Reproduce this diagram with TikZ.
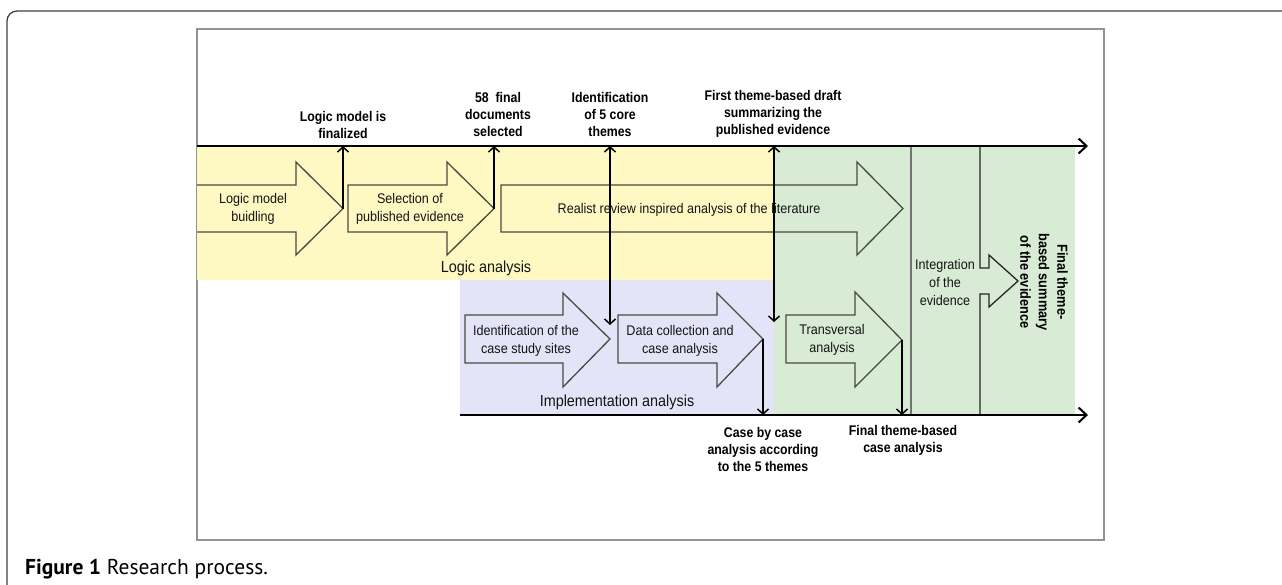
\documentclass[tikz,border=0pt]{standalone}
\usepackage{fontspec}
\setmainfont{Liberation Sans}
\newfontfamily\labfont{Liberation Sans}[FakeStretch=0.88]
\newfontfamily\txtfont{Liberation Sans}[FakeStretch=0.9]
\newfontfamily\capfont{PT Sans}
\usetikzlibrary{arrows.meta}
\definecolor{bgyellow}{HTML}{FEF9C3}
\definecolor{bglav}{HTML}{E4E4F8}
\definecolor{bggreen}{HTML}{D8EBD5}
\definecolor{outl}{HTML}{4A4A40}
\tikzset{
  lbl/.style={font=\labfont\bfseries\fontsize{14}{17}\selectfont, align=center, inner sep=0pt},
  atxt/.style={font=\txtfont\fontsize{14}{18}\selectfont, align=center, text=black!92, inner sep=0pt},
  zonetxt/.style={font=\txtfont\fontsize{16}{19}\selectfont, text=black!92, inner sep=0pt},
  bigarrow/.style={draw=outl, line width=1.3pt, line join=miter},
  timeline/.style={line width=2.4pt, -{Straight Barb[length=8pt,width=15pt,line width=2pt]}},
  mk/.style={line width=1.3pt, -{Straight Barb[length=5pt,width=11pt,line width=1.5pt]}},
  mkboth/.style={line width=1.3pt, {Straight Barb[length=5pt,width=11pt,line width=1.5pt]}-{Straight Barb[length=5pt,width=11pt,line width=1.5pt]}},
}
\begin{document}
\begin{tikzpicture}[x=1pt,y=-1pt]
\useasboundingbox (0,0) rectangle (1282,584);
% outer frame
\draw[line width=1.3pt, black!75, rounded corners=10pt] (7,600) -- (7,11) -- (1300,11);
% inner box
\draw[gray!85, line width=1.5pt] (197,29) rectangle (1104,540);
% zones
\fill[bgyellow] (197,146) rectangle (774,280);
\fill[bglav] (460,280) rectangle (774,415);
\fill[bggreen] (774,146) rectangle (1075,415);
% big arrows (upper)
\draw[bigarrow] (197,185) -- (296,185) -- (296,162) -- (343,208.5) -- (296,255) -- (296,232) -- (197,232);
\draw[bigarrow] (348,185) -- (447,185) -- (447,162) -- (494,208.5) -- (447,255) -- (447,232) -- (348,232) -- cycle;
\draw[bigarrow] (501,185) -- (857,185) -- (857,162) -- (903,208.5) -- (857,255) -- (857,232) -- (501,232) -- cycle;
% big arrows (lower)
\draw[bigarrow] (465,315) -- (563,315) -- (563,293) -- (610,339) -- (563,387) -- (563,363) -- (465,363) -- cycle;
\draw[bigarrow] (618,315) -- (717,315) -- (717,293) -- (763,339) -- (717,387) -- (717,363) -- (618,363) -- cycle;
\draw[bigarrow] (786,315) -- (855,315) -- (855,292) -- (902,340) -- (855,387) -- (855,363) -- (786,363) -- cycle;
% integration column
\draw[line width=2pt, black!55] (911,146) -- (911,415);
\draw[bigarrow, draw=black!85] (980,146) -- (980,268) -- (989,268) -- (989,255) -- (1018,281) -- (989,307) -- (989,294) -- (980,294) -- (980,415);
% timelines
\coordinate (tA0) at (197,146);
\coordinate (tA1) at (1088,146);
\coordinate (tB0) at (460,415);
\coordinate (tB1) at (1088,415);
\draw[timeline] (tA0) -- (tA1);
\draw[timeline] (tB0) -- (tB1);
% marker connectors
\coordinate (tip1) at (343,208.5);
\coordinate (tip2) at (494,208.5);
\coordinate (m3a) at (610,325);
\coordinate (m4a) at (774,322);
\coordinate (tip5) at (763,339);
\coordinate (tip6) at (902,340);
\draw[mk] (tip1) -- (tip1 |- tA0);
\draw[mk] (tip2) -- (tip2 |- tA0);
\draw[mkboth] (m3a |- tA0) -- (m3a);
\draw[mkboth] (m4a |- tA0) -- (m4a);
\draw[mk] (tip5) -- (tip5 |- tB0);
\draw[mk] (tip6) -- (tip6 |- tB0);
% milestone labels
\node[lbl] (l1) at (343,124.5) {Logic model is\\finalized};
\node[lbl] (l2) at (498,114) {58~ final\\documents\\selected};
\node[lbl] (l3) at (610,114) {Identification\\of 5 core\\themes};
\node[lbl] (l4) at (773,114) {First theme-based draft\\summarizing the\\published evidence};
\node[lbl] (l5) at (763,449) {Case by case\\analysis according\\to the 5 themes};
\node[lbl] (l6) at (903,440) {Final theme-based\\case analysis};
\node[lbl, font=\labfont\bfseries\fontsize{14.5}{18.5}\selectfont, rotate=-90] (l7) at (1044,282) {Final theme-\\based summary\\of the evidence};
% arrow texts
\node[atxt] (a1) at (253,208.5) {Logic model\\buidling};
\node[atxt] (a2) at (410,208.5) {Selection of\\published evidence};
\node[atxt] (a3) at (689,210) {Realist review inspired analysis of the literature};
\node[atxt] (a4) at (526,341) {Identification of the\\case study sites};
\node[atxt] (a5) at (680,341) {Data collection and\\case analysis};
\node[atxt] (a6) at (832,340) {Transversal\\analysis};
\node[atxt] (a7) at (945,282) {Integration\\of the\\evidence};
% zone labels
\node[zonetxt] (z1) at (486,268) {Logic analysis};
\node[zonetxt] (z2) at (617,402) {Implementation analysis};
% caption
\node[font=\capfont\fontsize{21.5}{25}\selectfont, anchor=base west, inner sep=0pt] (cap) at (25,574) {\textbf{Figure 1} Research process.};
\end{tikzpicture}
\end{document}
